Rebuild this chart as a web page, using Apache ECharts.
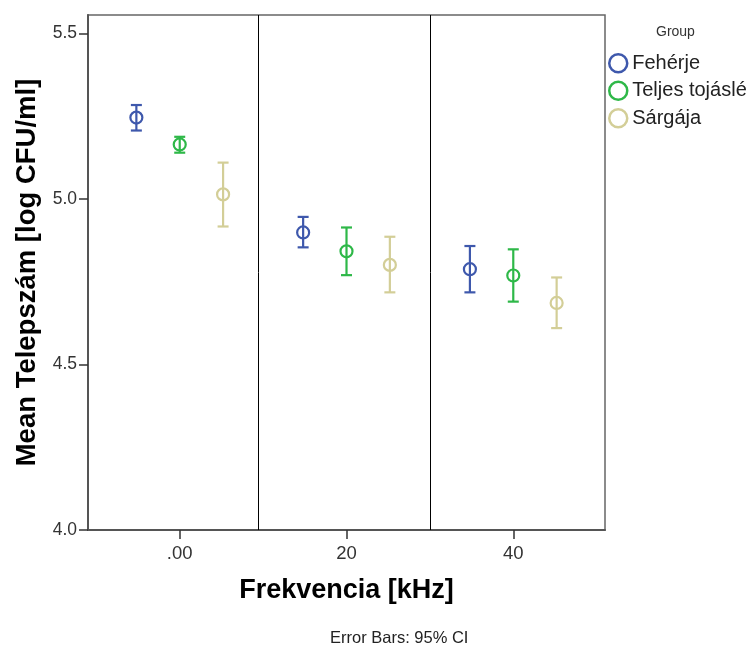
<!DOCTYPE html>
<html>
<head>
<meta charset="utf-8">
<script src="https://cdn.jsdelivr.net/npm/echarts@6/dist/echarts.min.js"></script>
<style>
  html, body { margin: 0; padding: 0; background: #fff; }
  #chart { width: 749px; height: 648px; }
</style>
</head>
<body>
<div id="chart"></div>
<script>
// categories on the x axis (Frekvencia)
var categories = ['.00', '20', '40'];
var groups = ['Fehérje', 'Teljes tojáslé', 'Sárgája'];

// means and 95% CI bounds, one entry per category
var feherjeMean = [5.246, 4.899, 4.788];
var feherjeLow  = [5.207, 4.854, 4.718];
var feherjeHigh = [5.284, 4.946, 4.858];

var teljesMean = [5.165, 4.842, 4.769];
var teljesLow  = [5.140, 4.770, 4.690];
var teljesHigh = [5.188, 4.914, 4.848];

var sargajaMean = [5.014, 4.801, 4.686];
var sargajaLow  = [4.917, 4.718, 4.610];
var sargajaHigh = [5.110, 4.886, 4.763];

var yTicks = [4.0, 4.5, 5.0, 5.5];

var colors = ['#3E58AC', '#2EB848', '#D3CE97'];
var offsets = [-0.26, 0, 0.26];
var font = '"Liberation Sans", Arial, sans-serif';

function buildData(mean, low, high, k) {
    return mean.map(function(m, i) {
        return [i + offsets[k], m, low[i], high[i]];
    });
}

function renderItem(params, api) {
    var x = api.value(0);
    var p = api.coord([x, api.value(1)]);
    var lo = api.coord([x, api.value(2)]);
    var hi = api.coord([x, api.value(3)]);
    var color = api.visual('color');
    var cap = 5.5;
    var st = { stroke: color, lineWidth: 2.2, fill: null };
    return {
        type: 'group',
        children: [
            { type: 'line', shape: { x1: p[0], y1: hi[1], x2: p[0], y2: lo[1] }, style: st },
            { type: 'line', shape: { x1: p[0] - cap, y1: hi[1], x2: p[0] + cap, y2: hi[1] }, style: st },
            { type: 'line', shape: { x1: p[0] - cap, y1: lo[1], x2: p[0] + cap, y2: lo[1] }, style: st },
            { type: 'circle', shape: { cx: p[0], cy: p[1], r: 6 }, style: st }
        ]
    };
}

var seriesData = [
    buildData(feherjeMean, feherjeLow, feherjeHigh, 0),
    buildData(teljesMean, teljesLow, teljesHigh, 1),
    buildData(sargajaMean, sargajaLow, sargajaHigh, 2)
];

var series = groups.map(function(name, k) {
    var s = {
        name: name,
        type: 'custom',
        renderItem: renderItem,
        itemStyle: { color: colors[k] },
        encode: { x: 0, y: [1, 2, 3] },
        data: seriesData[k],
        z: 5
    };
    if (k === 0) {
        // panel separators between the frequency groups
        s.markLine = {
            silent: true,
            symbol: ['none', 'none'],
            label: { show: false },
            lineStyle: { color: '#000', width: 1, type: 'solid' },
            data: [{ xAxis: 0.47 }, { xAxis: 1.5 }]
        };
    }
    return s;
});

var chart = echarts.init(document.getElementById('chart'));
chart.setOption({
    backgroundColor: '#fff',
    animation: false,
    grid: {
        left: 88, top: 15, right: 144, bottom: 118,
        show: true, borderColor: '#666', borderWidth: 1.5
    },
    xAxis: {
        type: 'value',
        min: -0.55,
        max: 2.55,
        name: 'Frekvencia [kHz]',
        nameLocation: 'middle',
        nameGap: 47,
        nameTextStyle: { fontFamily: font, fontSize: 27, fontWeight: 'bold', color: '#000' },
        axisLine: { onZero: false, lineStyle: { color: '#555', width: 2 } },
        axisTick: { customValues: [0, 1, 2], length: 9, lineStyle: { color: '#333', width: 1.5 } },
        axisLabel: {
            customValues: [0, 1, 2],
            formatter: function(v) { return categories[Math.round(v)]; },
            fontFamily: font, fontSize: 18.5, color: '#333', margin: 14
        },
        splitLine: { show: false }
    },
    yAxis: {
        type: 'value',
        min: 4.0,
        max: 5.556,
        name: 'Mean Telepszám [log CFU/ml]',
        nameLocation: 'middle',
        nameRotate: 90,
        nameGap: 47,
        nameTextStyle: { fontFamily: font, fontSize: 27.5, fontWeight: 'bold', color: '#000' },
        axisLine: { show: true, onZero: false, lineStyle: { color: '#555', width: 2 } },
        axisTick: { show: true, customValues: yTicks, length: 9, lineStyle: { color: '#333', width: 1.5 } },
        axisLabel: {
            customValues: yTicks,
            formatter: function(v) { return v.toFixed(1); },
            fontFamily: font, fontSize: 17.5, color: '#333', margin: 11
        },
        splitLine: { show: false }
    },
    legend: {
        orient: 'vertical',
        left: 608,
        top: 53,
        padding: 0,
        icon: 'circle',
        itemWidth: 18,
        itemHeight: 18,
        itemGap: 7,
        data: groups.map(function(g, k) {
            return { name: g, itemStyle: { color: 'rgba(0,0,0,0)', borderColor: colors[k], borderWidth: 2.5 } };
        }),
        textStyle: { fontFamily: font, fontSize: 20, color: '#222', lineHeight: 19 }
    },
    graphic: [
        {
            type: 'text', left: 656, top: 25,
            style: { text: 'Group', fontFamily: font, fontSize: 14, fill: '#333' }
        },
        {
            type: 'text', left: 330, top: 630,
            style: { text: 'Error Bars: 95% CI', fontFamily: font, fontSize: 16.5, fill: '#222' }
        }
    ],
    series: series
});
</script>
</body>
</html>
